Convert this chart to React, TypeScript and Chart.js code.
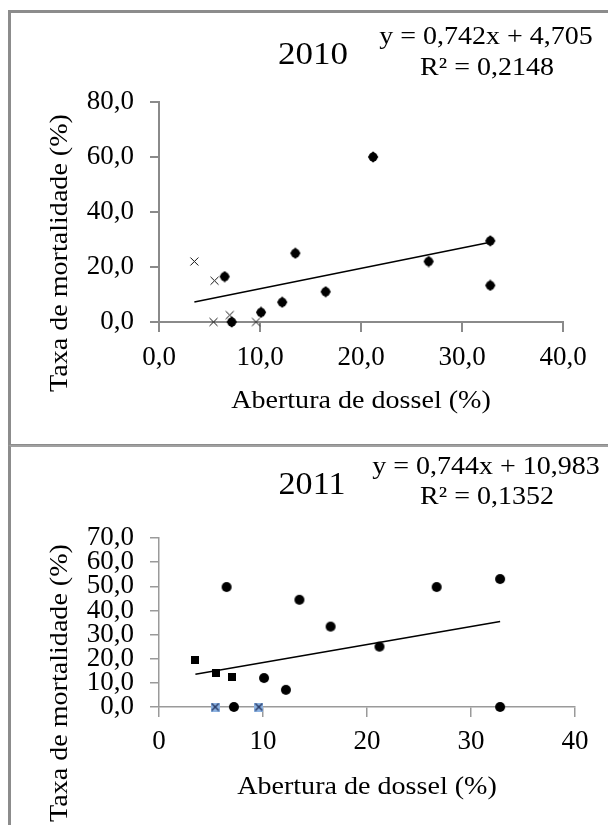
import React, { useEffect, useRef } from 'react';
import { Chart, registerables } from 'chart.js';

Chart.register(...registerables);

const FONT = '"Liberation Serif", "Times New Roman", serif';

// ---------- 2010 ----------
const TITLE_2010 = '2010';
const EQ_2010 = 'y = 0,742x + 4,705';
const R2_2010 = 'R² = 0,2148';
const DIAMOND_X_2010 = [6.5, 7.2, 10.1, 12.2, 13.5, 16.5, 21.2, 26.7, 32.8, 32.8];
const DIAMOND_Y_2010 = [16.5, 0, 3.5, 7.2, 25, 11, 60, 22, 29.5, 13.3];
const CROSS_X_2010 = [3.5, 5.5, 5.4, 7.0, 9.6];
const CROSS_Y_2010 = [22, 15, 0, 2.5, 0];
const TREND_X_2010 = [3.5, 32.8];
const TREND_Y_2010 = [7.3, 29.0];
const Y_MAX_2010 = 80;
const Y_STEP_2010 = 20;

// ---------- 2011 ----------
const TITLE_2011 = '2011';
const EQ_2011 = 'y = 0,744x + 10,983';
const R2_2011 = 'R² = 0,1352';
const CIRCLE_X_2011 = [6.5, 7.2, 10.1, 12.2, 13.5, 16.5, 21.2, 26.7, 32.8, 32.8];
const CIRCLE_Y_2011 = [49.7, 0, 12, 7.1, 44.4, 33.3, 25, 49.7, 53, 0];
const SQUARE_X_2011 = [3.5, 5.5, 7.0];
const SQUARE_Y_2011 = [19.3, 14, 12.5];
const BLUE_X_2011 = [5.4, 9.6];
const BLUE_Y_2011 = [0, 0];
const TREND_X_2011 = [3.5, 32.8];
const TREND_Y_2011 = [13.6, 35.4];
const Y_MAX_2011 = 70;
const Y_STEP_2011 = 10;

const X_MAX = 40;
const X_STEP = 10;
const X_TITLE = 'Abertura de dossel (%)';
const Y_TITLE = 'Taxa de mortalidade (%)';

const pts = (xs: number[], ys: number[]) => xs.map((x, i) => ({ x, y: ys[i] }));
const comma1 = (v: number) => Number(v).toFixed(1).replace('.', ',');

function marker(size: number, draw: (g: CanvasRenderingContext2D) => void) {
  const c = document.createElement('canvas');
  c.width = size;
  c.height = size;
  const g = c.getContext('2d')!;
  draw(g);
  return c;
}

type T = { text: string; x: number; y: number; size: number; sx?: number; rotate?: boolean };

function textPlugin(texts: T[]) {
  return {
    id: 'panelText',
    afterDraw(chart: any) {
      const ctx = chart.ctx as CanvasRenderingContext2D;
      ctx.save();
      ctx.fillStyle = '#000';
      ctx.textAlign = 'center';
      ctx.textBaseline = 'middle';
      for (const t of texts) {
        ctx.font = `${t.size}px ${FONT}`;
        ctx.save();
        ctx.translate(t.x, t.y);
        if (t.rotate) ctx.rotate(-Math.PI / 2);
        ctx.scale(t.sx || 1, 1);
        ctx.fillText(t.text, 0, 0);
        ctx.restore();
      }
      ctx.restore();
    },
  };
}

function axes(opts: {
  yMax: number;
  yStep: number;
  xFmt: (v: number) => string;
  yFmt: (v: number) => string;
  axisColor: string;
  axisWidth: number;
  yWidth: number;
  xHeight: number;
  xPad: number;
}) {
  const tickFont = { family: FONT, size: 27 };
  return {
    x: {
      type: 'linear',
      min: 0,
      max: X_MAX,
      ticks: { stepSize: X_STEP, color: '#000', font: tickFont, padding: opts.xPad, maxRotation: 0, autoSkip: false, callback: (v: any) => opts.xFmt(v) },
      grid: { drawOnChartArea: false, drawTicks: true, tickLength: 10, color: opts.axisColor, lineWidth: opts.axisWidth },
      border: { display: true, color: opts.axisColor, width: opts.axisWidth },
      afterFit: (s: any) => { s.height = opts.xHeight; },
    },
    y: {
      type: 'linear',
      min: 0,
      max: opts.yMax,
      ticks: { stepSize: opts.yStep, color: '#000', font: tickFont, padding: 16, autoSkip: false, callback: (v: any) => opts.yFmt(v) },
      grid: { drawOnChartArea: false, drawTicks: true, tickLength: 9, color: opts.axisColor, lineWidth: opts.axisWidth },
      border: { display: true, color: opts.axisColor, width: opts.axisWidth },
      afterFit: (s: any) => { s.width = opts.yWidth; },
    },
  };
}

export default function App() {
  const topRef = useRef<HTMLCanvasElement>(null);
  const botRef = useRef<HTMLCanvasElement>(null);

  useEffect(() => {
    const diamond = marker(12, (g) => {
      g.fillStyle = '#000';
      g.beginPath();
      g.moveTo(6, 0.3);
      g.lineTo(11.2, 6);
      g.lineTo(6, 11.7);
      g.lineTo(0.8, 6);
      g.closePath();
      g.fill();
      g.beginPath();
      g.arc(6, 6, 4.5, 0, Math.PI * 2);
      g.fill();
    });
    const cross = marker(11, (g) => {
      g.strokeStyle = '#111';
      g.lineWidth = 1;
      g.beginPath();
      g.moveTo(1.5, 1.5);
      g.lineTo(9.5, 9.5);
      g.moveTo(9.5, 1.5);
      g.lineTo(1.5, 9.5);
      g.stroke();
    });
    const circle = marker(12, (g) => {
      g.fillStyle = '#000';
      g.beginPath();
      g.arc(6, 6, 5, 0, Math.PI * 2);
      g.fill();
    });
    const square = marker(8, (g) => {
      g.fillStyle = '#000';
      g.fillRect(0, 0, 8, 8);
    });
    const blue = marker(9, (g) => {
      g.fillStyle = '#8db3e2';
      g.fillRect(0, 0, 9, 9);
      g.strokeStyle = '#1f2f5a';
      g.lineWidth = 1.3;
      g.beginPath();
      g.moveTo(1, 1);
      g.lineTo(8, 8);
      g.moveTo(8, 1);
      g.lineTo(1, 8);
      g.stroke();
    });

    const scatter = (data: any, style: any) => ({
      type: 'scatter',
      data,
      pointStyle: style,
      pointRadius: 5,
      pointHoverRadius: 5,
      showLine: false,
      clip: false,
    });
    const trend = (data: any) => ({
      type: 'line',
      data,
      borderColor: '#000',
      borderWidth: 1.5,
      pointRadius: 0,
      fill: false,
      showLine: true,
      clip: false,
    });

    const top = new Chart(topRef.current!, {
      type: 'scatter',
      data: {
        datasets: [
          trend(pts(TREND_X_2010, TREND_Y_2010)),
          scatter(pts(CROSS_X_2010, CROSS_Y_2010), cross),
          scatter(pts(DIAMOND_X_2010, DIAMOND_Y_2010), diamond),
        ] as any,
      },
      options: {
        animation: false,
        responsive: false,
        events: [],
        layout: { padding: { left: 0, top: 102, right: 45, bottom: 0 } },
        plugins: { legend: { display: false }, tooltip: { enabled: false }, title: { display: false } },
        scales: axes({ yMax: Y_MAX_2010, yStep: Y_STEP_2010, xFmt: comma1, yFmt: comma1, axisColor: '#8a8a8a', axisWidth: 2, yWidth: 159, xHeight: 121, xPad: 10 }) as any,
      },
      plugins: [
        textPlugin([
          { text: TITLE_2010, x: 313, y: 56, size: 31, sx: 1.13 },
          { text: EQ_2010, x: 486, y: 37, size: 25, sx: 1.12 },
          { text: R2_2010, x: 487, y: 68, size: 25, sx: 1.12 },
          { text: X_TITLE, x: 361, y: 401, size: 26, sx: 1.08 },
          { text: Y_TITLE, x: 60, y: 253, size: 26, sx: 1.08, rotate: true },
        ]),
      ],
    } as any);

    const bot = new Chart(botRef.current!, {
      type: 'scatter',
      data: {
        datasets: [
          trend(pts(TREND_X_2011, TREND_Y_2011)),
          scatter(pts(SQUARE_X_2011, SQUARE_Y_2011), square),
          scatter(pts(BLUE_X_2011, BLUE_Y_2011), blue),
          scatter(pts(CIRCLE_X_2011, CIRCLE_Y_2011), circle),
        ] as any,
      },
      options: {
        animation: false,
        responsive: false,
        events: [],
        layout: { padding: { left: 0, top: 95, right: 33, bottom: 0 } },
        plugins: { legend: { display: false }, tooltip: { enabled: false }, title: { display: false } },
        scales: axes({ yMax: Y_MAX_2011, yStep: Y_STEP_2011, xFmt: (v) => String(v), yFmt: comma1, axisColor: '#9a9a9a', axisWidth: 1.5, yWidth: 159, xHeight: 118, xPad: 9 }) as any,
      },
      plugins: [
        textPlugin([
          { text: TITLE_2011, x: 312, y: 486 - 443, size: 31, sx: 1.1 },
          { text: EQ_2011, x: 486, y: 467 - 443, size: 25, sx: 1.12 },
          { text: R2_2011, x: 487, y: 497 - 443, size: 25, sx: 1.12 },
          { text: X_TITLE, x: 367, y: 787 - 443, size: 26, sx: 1.08 },
          { text: Y_TITLE, x: 60, y: 683 - 443, size: 26, sx: 1.08, rotate: true },
        ]),
      ],
    } as any);

    return () => {
      top.destroy();
      bot.destroy();
    };
  }, []);

  return (
    <div style={{ position: 'absolute', left: 0, top: 0, width: 608, height: 825, overflow: 'hidden', background: '#fff' }}>
      <canvas ref={topRef} width={608} height={443} style={{ position: 'absolute', left: 0, top: 0, width: 608, height: 443 }} />
      <canvas ref={botRef} width={608} height={382} style={{ position: 'absolute', left: 0, top: 443, width: 608, height: 382 }} />
      <div style={{ position: 'absolute', left: 8, top: 10, width: 640, height: 436, boxSizing: 'border-box', border: '3px solid #8c8c8c', borderBottomWidth: 2, pointerEvents: 'none' }} />
      <div style={{ position: 'absolute', left: 8, top: 445, width: 640, height: 420, boxSizing: 'border-box', borderLeft: '3px solid #8c8c8c', borderTop: '2px solid #a0a0a0', pointerEvents: 'none' }} />
    </div>
  );
}
